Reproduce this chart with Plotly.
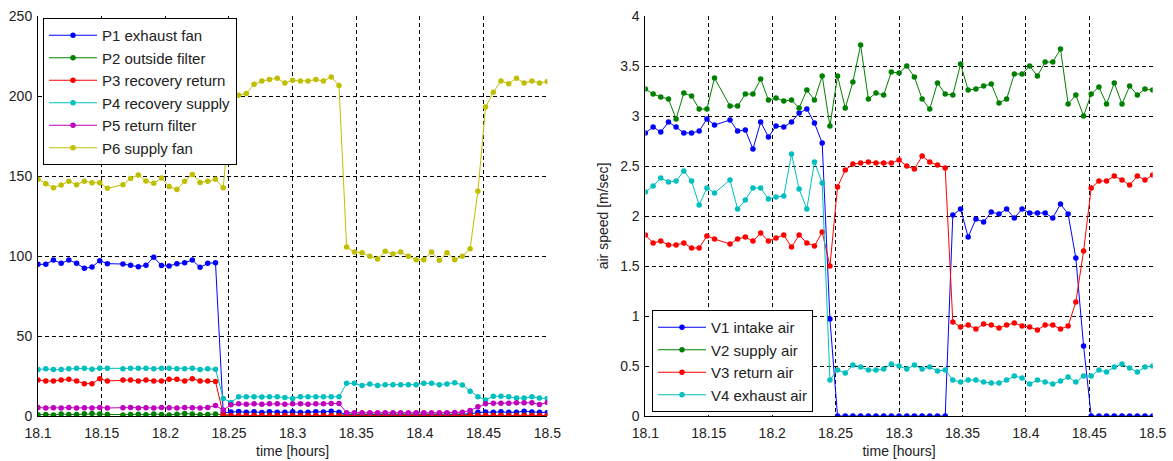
import plotly.graph_objects as go

# sample times (hours); one sample (18.1606) is missing in the recording
time = [18.1000, 18.1061, 18.1121, 18.1182, 18.1242, 18.1303, 18.1364, 18.1424, 18.1485, 18.1545,
        18.1667, 18.1727, 18.1788, 18.1848, 18.1909, 18.1970, 18.2030, 18.2091, 18.2152, 18.2212,
        18.2273, 18.2333, 18.2394, 18.2455, 18.2515, 18.2576, 18.2636, 18.2697, 18.2758, 18.2818,
        18.2879, 18.2939, 18.3000, 18.3061, 18.3121, 18.3182, 18.3242, 18.3303, 18.3364, 18.3424,
        18.3485, 18.3545, 18.3606, 18.3667, 18.3727, 18.3788, 18.3848, 18.3909, 18.3970, 18.4030,
        18.4091, 18.4152, 18.4212, 18.4273, 18.4333, 18.4394, 18.4455, 18.4515, 18.4576, 18.4636,
        18.4697, 18.4758, 18.4818, 18.4879, 18.4939, 18.5000]

# ---- left panel: pressures ----
p1_exhaust_fan = [94.8, 94.8, 97.5, 95.4, 97.5, 95.4, 92.3, 93.1, 97.1, 95.2,
                  95.0, 94.2, 93.3, 94.2, 99.2, 94.0, 93.8, 95.2, 95.8, 97.5,
                  92.9, 95.4, 95.8, 2.0, 2.5, 2.8, 2.3, 2.6, 2.2, 2.7,
                  2.4, 2.3, 2.6, 2.2, 2.4, 2.7, 2.5, 3.0, 2.4, 0.8,
                  0.9, 0.7, 0.8, 0.9, 0.8, 0.7, 0.8, 0.9, 0.8, 0.8,
                  0.7, 0.9, 0.8, 0.8, 1.0, 1.5, 2.4, 2.5, 2.3, 2.6,
                  2.3, 2.4, 3.0, 2.5, 2.3, 2.2]
p2_outside_filter = [0.8, 1.0, 0.6, 1.2, 0.9, 1.0, 1.4, 1.6, 1.3, 0.9,
                     0.7, 0.9, 1.1, 0.8, 1.2, 1.0, 0.7, 1.1, 1.5, 1.2,
                     0.8, 0.9, 1.3, 0.5, 0.3, 0.3, 0.3, 0.3, 0.3, 0.3,
                     0.3, 0.3, 0.3, 0.3, 0.3, 0.3, 0.3, 0.3, 0.3, 1.2,
                     1.2, 1.2, 1.2, 1.2, 1.2, 1.2, 1.2, 1.2, 1.2, 1.2,
                     1.2, 1.2, 1.2, 1.2, 1.2, 0.4, 0.4, 0.4, 0.4, 0.4,
                     0.4, 0.4, 0.4, 0.4, 0.4, 0.4]
p3_recovery_return = [22.5, 21.9, 21.9, 22.5, 22.9, 21.9, 20.2, 20.2, 23.3, 21.9,
                      22.5, 22.5, 21.9, 22.5, 21.9, 21.9, 22.9, 22.9, 21.9, 23.3,
                      21.9, 21.9, 21.5, 1.0, 0.3, 0.3, 0.3, 0.3, 0.3, 0.3,
                      0.3, 0.3, 0.3, 0.3, 0.3, 0.3, 0.3, 0.3, 0.3, 0.3,
                      0.3, 0.3, 0.3, 0.3, 0.3, 0.3, 0.3, 0.3, 0.3, 0.3,
                      0.3, 0.3, 0.3, 0.3, 0.3, 0.3, 0.3, 0.3, 0.3, 0.3,
                      0.3, 0.3, 0.3, 0.3, 0.3, 0.3]
p4_recovery_supply = [29.0, 29.5, 29.0, 29.0, 29.5, 29.8, 29.8, 29.2, 29.8, 29.8,
                      29.5, 29.8, 29.8, 29.8, 29.5, 29.8, 29.8, 29.5, 29.5, 29.8,
                      29.0, 29.5, 29.2, 11.0, 8.5, 12.0, 12.0, 12.0, 11.8, 12.0,
                      12.0, 11.5, 11.0, 12.0, 12.0, 12.0, 12.0, 12.0, 12.0, 20.4,
                      20.4, 19.0, 20.0, 19.0, 19.6, 19.6, 19.6, 19.6, 19.6, 20.4,
                      20.4, 19.6, 20.0, 20.8, 19.4, 15.5, 12.0, 10.0, 12.3, 12.3,
                      12.0, 11.2, 11.2, 12.0, 11.2, 11.0]
p5_return_filter = [5.3, 5.0, 5.2, 5.0, 5.3, 5.0, 5.2, 5.0, 5.3, 5.0,
                    5.2, 5.3, 5.0, 5.2, 5.0, 5.3, 5.2, 5.0, 5.3, 5.2,
                    5.0, 5.3, 6.5, 3.7, 7.0, 7.6, 7.3, 7.6, 7.3, 7.6,
                    7.6, 7.3, 7.6, 7.6, 7.3, 7.6, 7.6, 7.8, 7.8, 2.1,
                    2.1, 2.0, 2.1, 2.0, 2.1, 2.1, 2.0, 2.1, 2.0, 2.1,
                    2.0, 2.1, 2.1, 2.2, 2.3, 3.5, 5.8, 7.6, 8.0, 8.0,
                    8.0, 8.3, 8.3, 8.3, 7.2, 8.5]
p6_supply_fan = [147.9, 145.2, 142.7, 144.4, 146.7, 144.6, 146.7, 145.8, 145.8, 142.3,
                 144.6, 148.5, 150.6, 146.9, 145.4, 148.7, 143.5, 141.6, 146.7, 151.0,
                 146.0, 146.7, 147.9, 142.7, 196.0, 200.5, 201.5, 207.3, 209.4, 210.3,
                 211.1, 208.2, 209.8, 209.4, 209.4, 210.3, 209.4, 211.9, 206.5, 105.6,
                 102.5, 102.1, 99.8, 98.1, 102.9, 101.3, 102.5, 99.8, 97.7, 97.7,
                 102.5, 97.3, 102.1, 97.7, 99.8, 104.6, 140.4, 193.1, 202.3, 209.4,
                 207.7, 211.1, 208.2, 209.4, 208.2, 209.0]

# ---- right panel: air speeds ----
v1_intake_air = [2.83, 2.89, 2.84, 2.94, 2.89, 2.83, 2.83, 2.85, 2.97, 2.91,
                 2.96, 2.85, 2.86, 2.67, 2.94, 2.79, 2.90, 2.89, 2.94, 3.03,
                 3.07, 2.93, 2.73, 0.97, 0.0, 0.0, 0.0, 0.0, 0.0, 0.0,
                 0.0, 0.0, 0.0, 0.0, 0.0, 0.0, 0.0, 0.0, 0.0, 2.01,
                 2.07, 1.79, 1.97, 1.94, 2.04, 2.02, 2.07, 1.98, 2.07, 2.03,
                 2.03, 2.03, 1.98, 2.12, 2.02, 1.58, 0.70, 0.0, 0.0, 0.0,
                 0.0, 0.0, 0.0, 0.0, 0.0, 0.0]
v2_supply_air = [3.27, 3.22, 3.19, 3.17, 2.97, 3.23, 3.20, 3.07, 3.07, 3.38,
                 3.10, 3.10, 3.22, 3.22, 3.37, 3.16, 3.18, 3.15, 3.16, 3.08,
                 3.26, 3.16, 3.40, 2.90, 3.40, 3.08, 3.34, 3.71, 3.17, 3.23,
                 3.21, 3.44, 3.43, 3.50, 3.39, 3.17, 3.07, 3.33, 3.22, 3.21,
                 3.52, 3.26, 3.27, 3.30, 3.32, 3.13, 3.17, 3.42, 3.42, 3.50,
                 3.40, 3.54, 3.54, 3.67, 3.12, 3.21, 3.00, 3.22, 3.29, 3.12,
                 3.33, 3.12, 3.30, 3.21, 3.27, 3.26]
v3_return_air = [1.81, 1.73, 1.75, 1.71, 1.71, 1.73, 1.68, 1.68, 1.80, 1.77,
                 1.72, 1.77, 1.79, 1.75, 1.83, 1.75, 1.78, 1.81, 1.69, 1.81,
                 1.73, 1.70, 1.84, 1.50, 2.29, 2.46, 2.52, 2.53, 2.54, 2.53,
                 2.53, 2.53, 2.56, 2.50, 2.47, 2.60, 2.54, 2.51, 2.48, 0.94,
                 0.89, 0.91, 0.87, 0.92, 0.91, 0.88, 0.91, 0.93, 0.90, 0.89,
                 0.86, 0.91, 0.91, 0.87, 0.90, 1.14, 1.65, 2.28, 2.35, 2.35,
                 2.40, 2.36, 2.31, 2.40, 2.36, 2.41]
v4_exhaust_air = [2.24, 2.30, 2.38, 2.34, 2.35, 2.45, 2.35, 2.11, 2.28, 2.23,
                  2.36, 2.07, 2.16, 2.28, 2.28, 2.17, 2.19, 2.20, 2.62, 2.27,
                  2.07, 2.54, 2.33, 0.36, 0.46, 0.43, 0.51, 0.49, 0.46, 0.46,
                  0.47, 0.52, 0.50, 0.47, 0.51, 0.47, 0.49, 0.45, 0.46, 0.36,
                  0.34, 0.36, 0.36, 0.34, 0.33, 0.33, 0.36, 0.40, 0.38, 0.32,
                  0.36, 0.34, 0.32, 0.35, 0.39, 0.34, 0.40, 0.40, 0.46, 0.44,
                  0.49, 0.52, 0.48, 0.44, 0.49, 0.50]

left_names = ["P1 exhaust fan", "P2 outside filter", "P3 recovery return",
              "P4 recovery supply", "P5 return filter", "P6 supply fan"]
right_names = ["V1 intake air", "V2 supply air", "V3 return air", "V4 exhaust air"]

x_ticks = [18.1, 18.15, 18.2, 18.25, 18.3, 18.35, 18.4, 18.45, 18.5]
x_tick_text = ["18.1", "18.15", "18.2", "18.25", "18.3", "18.35", "18.4", "18.45", "18.5"]
left_y_ticks = [0, 50, 100, 150, 200, 250]
right_y_ticks = [0, 0.5, 1, 1.5, 2, 2.5, 3, 3.5, 4]
right_y_text = ["0", "0.5", "1", "1.5", "2", "2.5", "3", "3.5", "4"]

left_series = [p1_exhaust_fan, p2_outside_filter, p3_recovery_return,
               p4_recovery_supply, p5_return_filter, p6_supply_fan]
right_series = [v1_intake_air, v2_supply_air, v3_return_air, v4_exhaust_air]
for s in left_series + right_series:
    assert len(s) == len(time), len(s)

colors = ["#0000ff", "#008000", "#ff0000", "#00bfbf", "#bf00bf", "#bfbf00"]

FONT = "Liberation Sans, Arial, sans-serif"
TXT = "#222222"
fig = go.Figure()

for name, ys, c in zip(left_names, left_series, colors):
    fig.add_trace(go.Scatter(x=time, y=ys, name=name, mode="lines+markers",
                             line=dict(color=c, width=1),
                             marker=dict(color=c, size=5.5),
                             xaxis="x", yaxis="y", legend="legend"))
for name, ys, c in zip(right_names, right_series, colors):
    fig.add_trace(go.Scatter(x=time, y=ys, name=name, mode="lines+markers",
                             line=dict(color=c, width=1),
                             marker=dict(color=c, size=5.5),
                             xaxis="x2", yaxis="y2", legend="legend2"))

axis_common = dict(showgrid=True, gridcolor="black", gridwidth=1, griddash="4px,3px",
                   zeroline=False, showline=True, linecolor="black", linewidth=1,
                   ticks="", tickfont=dict(family=FONT, size=14, color=TXT),
                   mirror=False, automargin=False)

L, R, T, B = 38, 20, 16, 45
W = 1173 - L - R
xtitle = dict(text="time [hours]", font=dict(family=FONT, size=14, color=TXT), standoff=6)
fig.update_layout(
    width=1173, height=461,
    margin=dict(l=L, r=R, t=T, b=B, pad=0),
    paper_bgcolor="white", plot_bgcolor="white",
    font=dict(family=FONT, size=14, color=TXT),
    xaxis=dict(domain=[0.0, (547.3 - L) / W], range=[18.1, 18.5],
               tickvals=x_ticks, ticktext=x_tick_text, anchor="y",
               ticklabelstandoff=4, title=xtitle, **axis_common),
    yaxis=dict(domain=[0, 1], range=[0, 250], tickvals=left_y_ticks, anchor="x",
               ticklabelstandoff=2, **axis_common),
    xaxis2=dict(domain=[(645.4 - L) / W, (1152.7 - L) / W], range=[18.1, 18.5],
                tickvals=x_ticks, ticktext=x_tick_text, anchor="y2",
                ticklabelstandoff=4, title=xtitle, **axis_common),
    yaxis2=dict(domain=[0, 1], range=[0, 4], tickvals=right_y_ticks, ticktext=right_y_text,
                anchor="x2", ticklabelstandoff=2,
                title=dict(text="air speed [m/sec]", font=dict(family=FONT, size=14, color=TXT),
                           standoff=8),
                **axis_common),
    legend=dict(x=(43 - L) / W, y=0.995, xanchor="left", yanchor="top",
                bgcolor="white", bordercolor="black", borderwidth=1,
                font=dict(family=FONT, size=15, color=TXT), itemwidth=48),
    legend2=dict(x=(652 - L) / W, y=0.01, xanchor="left", yanchor="bottom",
                 bgcolor="white", bordercolor="black", borderwidth=1,
                 font=dict(family=FONT, size=15, color=TXT), itemwidth=48),
    showlegend=True,
)

fig.write_html("out.html")
